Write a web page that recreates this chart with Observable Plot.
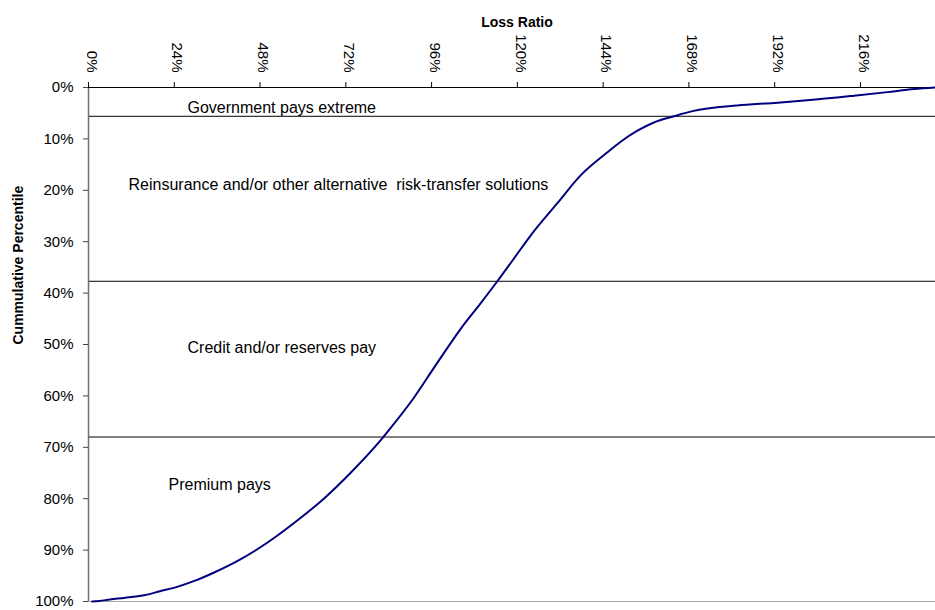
<!DOCTYPE html>
<html>
<head>
<meta charset="utf-8">
<script src="https://cdn.jsdelivr.net/npm/d3@7"></script>
<script src="https://cdn.jsdelivr.net/npm/@observablehq/plot@0.6"></script>
<style>
  html, body { margin: 0; padding: 0; background: #fff; }
  svg text { white-space: pre; }
</style>
</head>
<body>
<div id="chart"></div>
<script>
const lossRatio = [1, 3, 6, 10, 15.5, 20, 25, 30, 35, 42.5, 48, 52, 58.5, 66, 73.3, 80.8, 84, 91, 96.6, 104.1, 109.7, 114.4, 118.6, 123.7, 131.2, 137.7, 145.2, 149, 153.6, 158.2, 163.8, 169, 181.5, 191.8, 201.1, 214.2, 223.5, 231, 237];
const percentile = [100, 99.9, 99.6, 99.3, 98.8, 98.0, 97.1, 95.9, 94.4, 91.8, 89.5, 87.6, 84.2, 79.9, 75.0, 69.4, 66.7, 60.4, 54.6, 47.0, 42.0, 37.7, 33.7, 28.8, 22.5, 17.1, 12.6, 10.5, 8.4, 6.8, 5.6, 4.6, 3.5, 3.0, 2.5, 1.6, 0.9, 0.3, 0];

const thresholds = [5.6, 37.7, 68];

const zoneLabels = ["Government pays extreme", "Reinsurance and/or other alternative  risk-transfer solutions", "Credit and/or reserves pay", "Premium pays"];
const zoneX = [27.7, 11.2, 27.7, 22.4];
const zoneY = [3.97, 18.9, 50.7, 77.4];

const xTicks = [0, 24, 48, 72, 96, 120, 144, 168, 192, 216];
const yTicks = [0, 10, 20, 30, 40, 50, 60, 70, 80, 90, 100];

const xTitle = "Loss Ratio";
const yTitle = "Cummulative Percentile";

const curve = lossRatio.map((x, i) => ({x, y: percentile[i]}));
const zones = zoneLabels.map((t, i) => ({t, x: zoneX[i], y: zoneY[i]}));
const pct = d => d + "%";

const chart = Plot.plot({
  width: 935,
  height: 610,
  marginTop: 87,
  marginLeft: 88,
  marginRight: 0,
  marginBottom: 9,
  style: {fontFamily: "'Liberation Sans', Arial, sans-serif", background: "#fff", color: "#000"},
  x: {domain: [0, 237]},
  y: {domain: [0, 100], reverse: true},
  marks: [
    Plot.ruleY(thresholds, {stroke: "#000", strokeWidth: 1}),
    Plot.ruleY([100], {stroke: "#a6a6a6", strokeWidth: 1}),
    Plot.ruleX([0], {stroke: "#6e6e6e", strokeWidth: 1.5}),
    Plot.ruleY([0], {stroke: "#000", strokeWidth: 1}),
    Plot.axisX(xTicks, {anchor: "top", tickFormat: () => "", tickSize: 6, label: null, stroke: "#000"}),
    Plot.axisX(xTicks, {anchor: "top", tickFormat: pct, tickRotate: 90, tickSize: 0, tickPadding: 15, dx: 3, fontSize: 15, label: null}),
    Plot.axisY(yTicks, {anchor: "left", tickFormat: pct, tickSize: 5, tickPadding: 10, fontSize: 15, label: null, stroke: "#444"}),
    Plot.line(curve, {x: "x", y: "y", stroke: "#000080", strokeWidth: 2, curve: "monotone-x"}),
    Plot.text(zones, {x: "x", y: "y", text: "t", textAnchor: "start", fontSize: 16, fill: "#000"}),
    Plot.text([xTitle], {frameAnchor: "top", dx: 5, dy: -70, fontSize: 14, fontWeight: "bold", fill: "#000"}),
    Plot.text([yTitle], {frameAnchor: "left", dx: -70, rotate: -90, fontSize: 14, fontWeight: "bold", fill: "#000"})
  ]
});
document.getElementById("chart").appendChild(chart);
</script>
</body>
</html>
